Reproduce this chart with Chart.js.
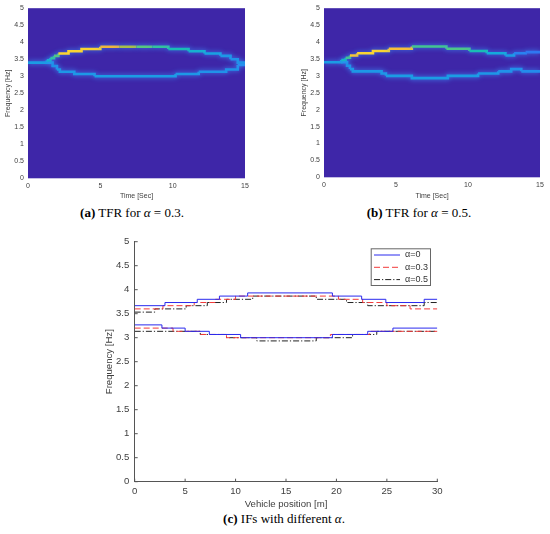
<!DOCTYPE html>
<html>
<head>
<meta charset="utf-8">
<script src="https://cdn.jsdelivr.net/npm/chart.js@4.4.1/dist/chart.umd.min.js"></script>
<style>
  body { margin: 0; background: #fff; width: 550px; height: 534px; position: relative; overflow: hidden; }
  .box { position: absolute; }
  .cap { position: absolute; font-family: "Liberation Serif", serif; font-size: 13px; color: #000;
         white-space: nowrap; transform: translate(-50%, -50%); }
</style>
</head>
<body>
<div class="box" style="left:0;top:0;width:275px;height:200px"><canvas id="tfrA"></canvas></div>
<div class="box" style="left:275px;top:0;width:275px;height:200px"><canvas id="tfrB"></canvas></div>
<div class="box" style="left:0;top:230px;width:550px;height:280px"><canvas id="ifChart"></canvas></div>
<div class="cap" style="left:132px;top:213px"><b>(a)</b> TFR for <i>α</i> = 0.3.</div>
<div class="cap" style="left:419px;top:213px"><b>(b)</b> TFR for <i>α</i> = 0.5.</div>
<div class="cap" style="left:284px;top:519px"><b>(c)</b> IFs with different <i>α</i>.</div>
<script>
// ---- TFR ridges (time [s], frequency [Hz], normalised energy) ----
// (a) alpha = 0.3
const tA_upper = [0, 1.3, 1.55, 1.8, 2.1, 2.8, 3.7, 5.0, 6.3, 7.5, 8.6, 9.7, 11.1, 12.2, 13.3, 14.0, 14.5, 15];
const fA_upper = [3.4, 3.467, 3.533, 3.6, 3.667, 3.733, 3.8, 3.867, 3.867, 3.867, 3.867, 3.8, 3.733, 3.667, 3.6, 3.5, 3.4, 3.4];
const eA_upper = [0.33, 0.42, 0.55, 0.62, 0.95, 0.95, 0.95, 0.86, 0.74, 0.62, 0.55, 0.5, 0.42, 0.35, 0.32, 0.3, 0.3, 0.3];
const tA_lower = [1.3, 1.7, 2.0, 2.2, 3.2, 4.6, 10.2, 11.8, 13.7, 14.5, 15];
const fA_lower = [3.4, 3.3, 3.2, 3.133, 3.067, 3.0, 3.067, 3.133, 3.2, 3.333, 3.333];
const eA_lower = [0.3, 0.3, 0.32, 0.32, 0.32, 0.33, 0.32, 0.3, 0.3, 0.28, 0.28];
// (b) alpha = 0.5
const tB_upper = [0, 1.2, 1.5, 1.8, 2.3, 3.4, 4.5, 6.1, 8.5, 10.1, 11.3, 12.6, 13.2, 14.0, 15];
const fB_upper = [3.4, 3.467, 3.533, 3.6, 3.667, 3.733, 3.8, 3.867, 3.8, 3.733, 3.667, 3.6, 3.667, 3.7, 3.7];
const eB_upper = [0.33, 0.45, 0.58, 0.92, 0.95, 0.95, 0.9, 0.58, 0.6, 0.5, 0.38, 0.33, 0.25, 0.22, 0.22];
const tB_lower = [1.2, 1.6, 1.8, 2.0, 4.0, 4.3, 6.1, 8.6, 10.7, 12.1, 13.0, 13.7, 15];
const fB_lower = [3.4, 3.3, 3.2, 3.133, 3.067, 3.0, 2.933, 3.0, 3.067, 3.133, 3.2, 3.133, 3.133];
const eB_lower = [0.3, 0.3, 0.32, 0.32, 0.32, 0.33, 0.33, 0.33, 0.32, 0.3, 0.3, 0.28, 0.28];

// ---- IFs against vehicle position [m] ----
const ifLabels = ['α=0', 'α=0.3', 'α=0.5'];
const a0UpperX = [0, 3.0, 6.2, 8.4, 11.2, 19.6, 22.5, 24.9, 28.7, 30];
const a0UpperY = [3.667, 3.733, 3.8, 3.867, 3.933, 3.867, 3.8, 3.733, 3.8, 3.8];
const a0LowerX = [0, 2.7, 5.0, 7.4, 10.5, 19.6, 23.1, 25.6, 30];
const a0LowerY = [3.267, 3.2, 3.133, 3.067, 3.0, 3.067, 3.133, 3.2, 3.2];
const a3UpperX = [0, 2.8, 5.9, 8.0, 10.0, 20.2, 22.6, 25.0, 27.3, 30];
const a3UpperY = [3.6, 3.667, 3.733, 3.8, 3.867, 3.8, 3.733, 3.667, 3.6, 3.6];
const a3LowerX = [0, 3.8, 6.5, 9.1, 19.4, 23.3, 30];
const a3LowerY = [3.2, 3.133, 3.067, 3.0, 3.067, 3.133, 3.133];
const a5UpperX = [0, 2.0, 5.1, 7.2, 9.1, 11.7, 18.0, 21.0, 23.1, 28.7, 30];
const a5UpperY = [3.533, 3.6, 3.667, 3.733, 3.8, 3.867, 3.8, 3.733, 3.667, 3.733, 3.733];
const a5LowerX = [0, 6.5, 9.1, 12.1, 18.0, 21.6, 24.0, 30];
const a5LowerY = [3.133, 3.067, 3.0, 2.933, 3.0, 3.067, 3.133, 3.133];

const pts = (xs, ys) => xs.map((x, i) => ({ x: x, y: ys[i] }));
const tickFmt = v => String(Math.round(v * 10) / 10);

// parula-like colour map
const parulaStops = [
  [0.0, [62, 38, 168]], [0.125, [70, 86, 245]], [0.25, [40, 130, 240]], [0.375, [20, 170, 222]],
  [0.5, [25, 190, 180]], [0.625, [90, 200, 125]], [0.75, [175, 190, 70]], [0.875, [245, 180, 60]],
  [0.95, [250, 212, 50]], [1.0, [249, 251, 20]]
];
function parula(v) {
  for (let i = 1; i < parulaStops.length; i++) {
    const [v1, c1] = parulaStops[i];
    const [v0, c0] = parulaStops[i - 1];
    if (v <= v1) {
      const t = (v - v0) / (v1 - v0);
      const c = c0.map((k, j) => Math.round(k + (c1[j] - k) * t));
      return `rgb(${c[0]},${c[1]},${c[2]})`;
    }
  }
  return 'rgb(249,251,20)';
}

const axisText = '#404040';

const plotBg = {
  id: 'plotBg',
  beforeDraw(chart, args, opts) {
    if (!opts.color) return;
    const a = chart.chartArea, ctx = chart.ctx;
    ctx.save();
    ctx.fillStyle = opts.color;
    ctx.fillRect(a.left, a.top, a.right - a.left, a.bottom - a.top);
    ctx.restore();
  }
};

const glow = {
  id: 'glow',
  beforeDatasetsDraw(chart, args, opts) {
    if (!opts.blur) return;
    chart.ctx.save();
    chart.ctx.shadowColor = opts.color;
    chart.ctx.shadowBlur = opts.blur;
  },
  afterDatasetsDraw(chart, args, opts) {
    if (opts.blur) chart.ctx.restore();
  }
};

function ridge(ts, fs, es) {
  return {
    data: pts(ts, fs),
    stepped: true,
    borderWidth: 2.6,
    pointRadius: 0,
    borderCapStyle: 'butt',
    segment: { borderColor: ctx => parula(es[ctx.p0DataIndex]) },
    borderColor: parula(es[0])
  };
}

function tfrChart(id, datasets, pad, yWidth, xHeight) {
  return new Chart(id, {
    type: 'line',
    data: { datasets: datasets },
    plugins: [plotBg, glow],
    options: {
      responsive: true,
      maintainAspectRatio: false,
      animation: false,
      layout: { padding: pad },
      plugins: {
        legend: { display: false },
        tooltip: { enabled: false },
        plotBg: { color: 'rgb(62,38,168)' },
        glow: { color: 'rgba(60,150,255,0.9)', blur: 5 }
      },
      scales: {
        x: {
          type: 'linear', min: 0, max: 15,
          ticks: { stepSize: 5, callback: tickFmt, color: axisText, font: { family: 'Liberation Sans', size: 7 }, padding: 4, maxRotation: 0 },
          grid: { display: false, drawTicks: false },
          border: { display: false },
          title: { display: true, text: 'Time [Sec]', color: axisText, font: { family: 'Liberation Sans', size: 7 }, padding: 0 },
          afterFit: s => { s.height = xHeight; }
        },
        y: {
          type: 'linear', min: 0, max: 5,
          ticks: { stepSize: 0.5, callback: tickFmt, color: axisText, font: { family: 'Liberation Sans', size: 7 }, padding: 4 },
          grid: { display: false, drawTicks: false },
          border: { display: false },
          title: { display: true, text: 'Frequency [Hz]', color: axisText, font: { family: 'Liberation Sans', size: 7 }, padding: 0 },
          afterFit: s => { s.width = yWidth; }
        }
      }
    }
  });
}

tfrChart('tfrA', [ridge(tA_upper, fA_upper, eA_upper), ridge(tA_lower, fA_lower, eA_lower)],
  { left: 4.1, right: 30, top: 7.3, bottom: 0 }, 23.9, 21.7);
tfrChart('tfrB', [ridge(tB_upper, fB_upper, eB_upper), ridge(tB_lower, fB_lower, eB_lower)],
  { left: 25.1, right: 10, top: 7.3, bottom: 0 }, 23.9, 22.7);

// ---- (c) IF chart ----
const inwardTicks = {
  id: 'inwardTicks',
  afterDraw(chart) {
    const ctx = chart.ctx, a = chart.chartArea;
    ctx.save();
    ctx.strokeStyle = '#555';
    ctx.lineWidth = 1;
    ctx.beginPath();
    chart.scales.x.ticks.forEach(t => {
      const px = chart.scales.x.getPixelForValue(t.value);
      ctx.moveTo(px, a.bottom); ctx.lineTo(px, a.bottom - 3);
    });
    chart.scales.y.ticks.forEach(t => {
      const py = chart.scales.y.getPixelForValue(t.value);
      ctx.moveTo(a.left, py); ctx.lineTo(a.left + 3, py);
    });
    ctx.stroke();
    ctx.restore();
  }
};

const boxLegend = {
  id: 'boxLegend',
  afterDraw(chart) {
    const ctx = chart.ctx, a = chart.chartArea;
    const items = chart.data.datasets.filter(d => d.label);
    const w = 59.3, rowH = 12.3, h = 36.7;
    const left = a.right - 7.3 - w, top = a.top + 6.6;
    ctx.save();
    ctx.fillStyle = '#fff';
    ctx.fillRect(left, top, w, h);
    ctx.strokeStyle = '#666';
    ctx.lineWidth = 1;
    ctx.strokeRect(left + 0.5, top + 0.5, w, h);
    ctx.font = '9px "Liberation Sans"';
    ctx.textBaseline = 'middle';
    items.forEach((d, i) => {
      const y = top + 6.7 + i * rowH;
      ctx.strokeStyle = d.borderColor;
      ctx.lineWidth = d.borderWidth;
      ctx.setLineDash(d.borderDash || []);
      ctx.beginPath();
      ctx.moveTo(left + 3.3, y); ctx.lineTo(left + 29.3, y);
      ctx.stroke();
      ctx.setLineDash([]);
      ctx.fillStyle = '#333';
      ctx.fillText(d.label, left + 34.3, y);
    });
    ctx.restore();
  }
};

const ifStyles = [
  { borderColor: '#2a2aee', borderDash: [] },
  { borderColor: '#f23a3a', borderDash: [6, 3] },
  { borderColor: '#222222', borderDash: [6, 2, 1.2, 2] }
];
function ifLine(xs, ys, k, withLabel) {
  return Object.assign({
    label: withLabel ? ifLabels[k] : undefined,
    data: pts(xs, ys),
    stepped: true,
    borderWidth: 1,
    pointRadius: 0,
    fill: false
  }, ifStyles[k]);
}

new Chart('ifChart', {
  type: 'line',
  data: {
    datasets: [
      ifLine(a0UpperX, a0UpperY, 0, true), ifLine(a0LowerX, a0LowerY, 0, false),
      ifLine(a3UpperX, a3UpperY, 1, true), ifLine(a3LowerX, a3LowerY, 1, false),
      ifLine(a5UpperX, a5UpperY, 2, true), ifLine(a5LowerX, a5LowerY, 2, false)
    ]
  },
  plugins: [inwardTicks, boxLegend],
  options: {
    responsive: true,
    maintainAspectRatio: false,
    animation: false,
    layout: { padding: { left: 103.5, right: 112.7, top: 11.7, bottom: 0 } },
    plugins: { legend: { display: false }, tooltip: { enabled: false } },
    scales: {
      x: {
        type: 'linear', min: 0, max: 30,
        ticks: { stepSize: 5, callback: tickFmt, color: axisText, font: { family: 'Liberation Sans', size: 9.6 }, padding: 3.6, maxRotation: 0 },
        grid: { display: false, drawTicks: false },
        border: { display: true, color: '#555', width: 1 },
        title: { display: true, text: 'Vehicle position [m]', color: axisText, font: { family: 'Liberation Sans', size: 9.6 }, padding: 0 },
        afterFit: s => { s.height = 28.3; }
      },
      y: {
        type: 'linear', min: 0, max: 5,
        ticks: { stepSize: 0.5, callback: tickFmt, color: axisText, font: { family: 'Liberation Sans', size: 9.6 }, padding: 5.4 },
        grid: { display: false, drawTicks: false },
        border: { display: true, color: '#555', width: 1 },
        title: { display: true, text: 'Frequency [Hz]', color: axisText, font: { family: 'Liberation Sans', size: 9.6 }, padding: 0 },
        afterFit: s => { s.width = 31.2; }
      }
    }
  }
});
</script>
</body>
</html>
